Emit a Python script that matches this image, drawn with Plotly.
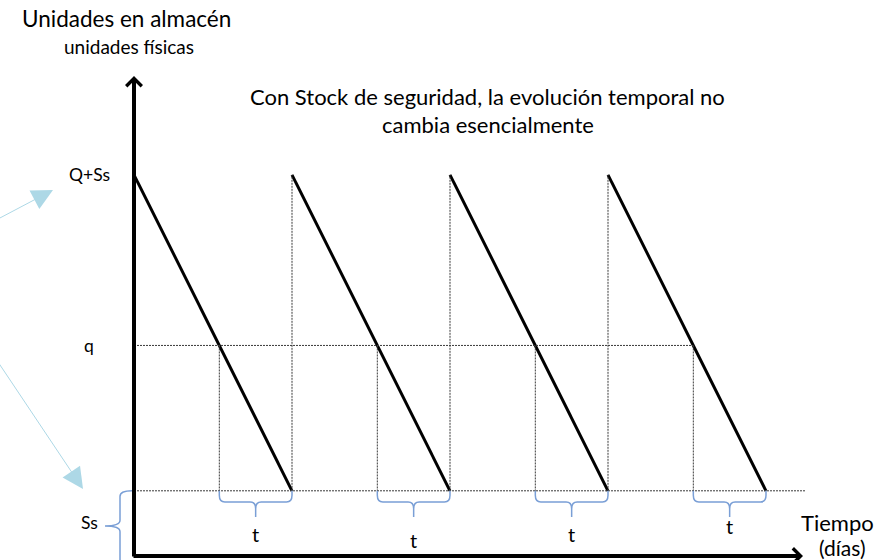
import plotly.graph_objects as go

# Inventory model (conceptual units)
Q = 100            # order quantity (units)
Ss = 20            # safety stock (units)
q = 66             # reorder point (units)
cycle_len = 10     # days between replenishments
cycle_starts = [0, 10, 20, 30]   # days at which a full order is on hand

demand = Q / cycle_len            # units consumed per day
top = Q + Ss
reorder_days = [c + (top - q) / demand for c in cycle_starts]
arrival_days = [c + cycle_len for c in cycle_starts]

level_labels = ["Q+Ss", "q", "Ss"]
t_label = "t"

# Screen mapping helpers (layout only)
W, H = 896, 560
X_PER_DAY = 15.8
Y_PER_UNIT = 3.16
X0_PX, Y0_PX = 134, 554
x_range = [(0 - X0_PX) / X_PER_DAY, (W - X0_PX) / X_PER_DAY]
y_range = [(Y0_PX - H) / Y_PER_UNIT, Y0_PX / Y_PER_UNIT]


def px_x(px):
    return (px - X0_PX) / X_PER_DAY


def px_y(py):
    return (Y0_PX - py) / Y_PER_UNIT


FONT = "Lato, 'Open Sans', sans-serif"
TXT = "#000000"
BRACE = "#7a9fd6"
POINTER = "#add8e6"

fig = go.Figure()

# Sawtooth inventory lines
saw_x, saw_y = [], []
for c, a in zip(cycle_starts, arrival_days):
    saw_x += [c, a, None]
    saw_y += [top, Ss, None]
fig.add_trace(go.Scatter(x=saw_x, y=saw_y, mode="lines",
                         line=dict(color="black", width=3),
                         hoverinfo="skip", showlegend=False))

# Dotted guide lines
dx, dy = [], []
# reorder level q across to the last reorder point
dx += [0, reorder_days[-1], None]
dy += [q, q, None]
# safety stock level
dx += [0, px_x(805), None]
dy += [Ss, Ss, None]
# reorder points down to Ss
for r in reorder_days:
    dx += [r, r, None]
    dy += [q, Ss, None]
# replenishment jumps
for a in arrival_days[:-1]:
    dx += [a, a, None]
    dy += [Ss, top, None]
fig.add_trace(go.Scatter(x=dx, y=dy, mode="lines",
                         line=dict(color="#3a3a3a", width=1, dash="2px,1px"),
                         hoverinfo="skip", showlegend=False))

shapes = []

# Horizontal braces marking the lead time t
yb = px_y(502)
yt = px_y(517)
r = 0.35
ry = (Ss - yb) * 0.6
for x0, x1 in zip(reorder_days, arrival_days):
    xm = (x0 + x1) / 2
    path = (f"M {x0},{Ss} L {x0},{yb + ry} Q {x0},{yb} {x0 + r},{yb} "
            f"L {xm - r},{yb} Q {xm},{yb} {xm},{yb - ry} L {xm},{yt} "
            f"M {xm},{yb - ry} Q {xm},{yb} {xm + r},{yb} "
            f"L {x1 - r},{yb} Q {x1},{yb} {x1},{yb + ry} L {x1},{Ss}")
    shapes.append(dict(type="path", path=path, xref="x", yref="y",
                       line=dict(color=BRACE, width=1.5)))

# Vertical brace marking the safety stock
xb = px_x(120)
xr = px_x(132)
xt = px_x(105)
ym = px_y(526)
rr = 1.8
path = (f"M {xr},{Ss} Q {xb},{Ss} {xb},{Ss - rr} L {xb},{ym + rr} "
        f"Q {xb},{ym} {xt},{ym} Q {xb},{ym} {xb},{ym - rr} L {xb},{y_range[0] - 2}")
shapes.append(dict(type="path", path=path, xref="x", yref="y",
                   line=dict(color=BRACE, width=1.5)))

annotations = []

# Axes with arrow heads
annotations.append(dict(x=0, y=px_y(76), ax=0, ay=px_y(558),
                        xref="x", yref="y", axref="x", ayref="y",
                        text="", showarrow=True, arrowhead=4, arrowsize=0.75,
                        arrowwidth=4, arrowcolor="black", standoff=0, startstandoff=0))
annotations.append(dict(x=px_x(803), y=px_y(556), ax=px_x(132), ay=px_y(556),
                        xref="x", yref="y", axref="x", ayref="y",
                        text="", showarrow=True, arrowhead=4, arrowsize=0.75,
                        arrowwidth=4, arrowcolor="black", standoff=0, startstandoff=0))

# Light-blue pointers coming in from the left
annotations.append(dict(x=px_x(53), y=px_y(190), ax=px_x(-2), ay=px_y(219),
                        xref="x", yref="y", axref="x", ayref="y",
                        text="", showarrow=True, arrowhead=2, arrowsize=4.2,
                        arrowwidth=1, arrowcolor=POINTER, standoff=0))
annotations.append(dict(x=px_x(83), y=px_y(489), ax=px_x(-2), ay=px_y(362),
                        xref="x", yref="y", axref="x", ayref="y",
                        text="", showarrow=True, arrowhead=2, arrowsize=4.2,
                        arrowwidth=1, arrowcolor=POINTER, standoff=0))

# Level labels on the vertical axis
for lab, val in zip(level_labels, [top, q, Ss / 2]):
    annotations.append(dict(x=px_x(89), y=val, xref="x", yref="y", text=lab,
                            showarrow=False, font=dict(family=FONT, size=17.5, color=TXT)))

# Lead-time labels under the braces
t_dy = [0, -6, 0, 8]
for x0, x1, d in zip(reorder_days, arrival_days, t_dy):
    annotations.append(dict(x=(x0 + x1) / 2, y=px_y(534), yshift=d,
                            xref="x", yref="y", text=t_label, showarrow=False,
                            font=dict(family=FONT, size=20, color=TXT)))


def paper_text(text, px, py, size):
    annotations.append(dict(x=px / W, y=1 - py / H, xref="paper", yref="paper",
                            text=text, showarrow=False, xanchor="center", yanchor="middle",
                            font=dict(family=FONT, size=size, color=TXT)))


paper_text("Unidades en almacén", 126, 18, 22.5)
paper_text("unidades físicas", 129, 46, 19)
paper_text("Con Stock de seguridad, la evolución temporal no", 488, 96, 22)
paper_text("cambia esencialmente", 488, 124, 22)
paper_text("Tiempo", 837, 522, 22)
paper_text("(días)", 842, 547, 21)

fig.update_layout(
    width=W, height=H, autosize=False,
    margin=dict(l=0, r=0, t=0, b=0),
    paper_bgcolor="white", plot_bgcolor="white",
    xaxis=dict(range=x_range, visible=False, fixedrange=True),
    yaxis=dict(range=y_range, visible=False, fixedrange=True),
    shapes=shapes, annotations=annotations,
    showlegend=False,
)

fig.write_html("out.html")
